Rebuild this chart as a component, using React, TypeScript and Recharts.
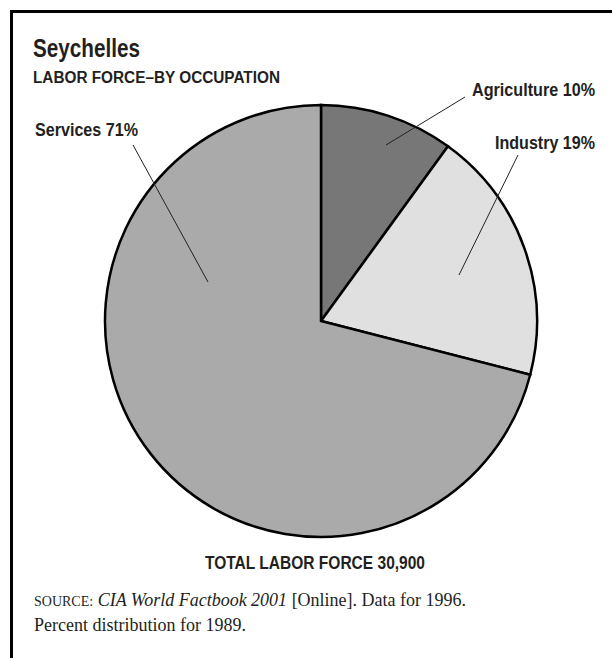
import { PieChart, Pie, Cell } from 'recharts';

const categories = ['Agriculture', 'Industry', 'Services'];
const shares = [10, 19, 71];

const TITLE = 'Seychelles';
const SUBTITLE = 'LABOR FORCE–BY OCCUPATION';
const TOTAL_NOTE = 'TOTAL LABOR FORCE 30,900';

const COLORS = ['#777777', '#e0e0e0', '#aaaaaa'];

// leader line + text placement, relative to the pie centre
const LABEL_LAYOUT = [
    { inner: [65, -176], outer: [144, -224], text: [274, -225], anchor: 'end', width: 123 },
    { inner: [138, -46], outer: [197, -166], text: [274, -172], anchor: 'end', width: 100 },
    { inner: [-113, -39], outer: [-188, -176], text: [-286, -185], anchor: 'start', width: 103 },
];

// no condensed face installed, so text is squeezed with textLength
const SANS = "'Liberation Sans', Arial, sans-serif";
const SERIF = "'Liberation Serif', 'DejaVu Serif', serif";

const data = categories.map((name, i) => ({ name, value: shares[i] }));

const renderLabel = (props: any) => {
    const { cx, cy, index, name, value } = props;
    const l = LABEL_LAYOUT[index];
    return (
        <g key={`label-${index}`}>
            <line
                x1={cx + l.inner[0]}
                y1={cy + l.inner[1]}
                x2={cx + l.outer[0]}
                y2={cy + l.outer[1]}
                stroke="#222"
                strokeWidth={1}
            />
            <text
                x={cx + l.text[0]}
                y={cy + l.text[1]}
                textAnchor={l.anchor}
                fontFamily={SANS}
                fontWeight="bold"
                fontSize={18}
                fill="#231f20"
                textLength={l.width}
                lengthAdjust="spacingAndGlyphs"
            >
                {`${name} ${value}%`}
            </text>
        </g>
    );
};

export default function App() {
    return (
        <div style={{ position: 'absolute', left: 0, top: 0, width: 612, height: 658, background: '#fff' }}>
            <PieChart width={612} height={658} margin={{ top: 0, right: 0, bottom: 0, left: 0 }}>
                <Pie
                    data={data}
                    dataKey="value"
                    nameKey="name"
                    cx={321}
                    cy={321}
                    outerRadius={216}
                    startAngle={90}
                    endAngle={-270}
                    stroke="#000"
                    strokeWidth={2.5}
                    label={renderLabel}
                    labelLine={false}
                    isAnimationActive={false}
                >
                    {data.map((_entry, index) => (
                        <Cell key={`cell-${index}`} fill={COLORS[index]} />
                    ))}
                </Pie>
            </PieChart>
            <svg
                width={612}
                height={658}
                style={{ position: 'absolute', left: 0, top: 0, pointerEvents: 'none' }}
            >
                <rect x={10} y={10} width={602} height={3} fill="#000" />
                <rect x={10} y={10} width={3} height={648} fill="#000" />
                <text
                    x={33}
                    y={57}
                    fontFamily={SANS}
                    fontWeight="bold"
                    fontSize={25}
                    fill="#231f20"
                    textLength={107}
                    lengthAdjust="spacingAndGlyphs"
                >
                    {TITLE}
                </text>
                <text
                    x={33}
                    y={83}
                    fontFamily={SANS}
                    fontWeight="bold"
                    fontSize={16}
                    fill="#231f20"
                    textLength={247}
                    lengthAdjust="spacingAndGlyphs"
                >
                    {SUBTITLE}
                </text>
                <text
                    x={205}
                    y={569}
                    fontFamily={SANS}
                    fontWeight="bold"
                    fontSize={19}
                    fill="#231f20"
                    textLength={220}
                    lengthAdjust="spacingAndGlyphs"
                >
                    {TOTAL_NOTE}
                </text>
                <text x={34} y={606} fontFamily={SERIF} fontSize={18} fill="#231f20">
                    <tspan fontSize={14}>SOURCE:</tspan>
                    <tspan fontStyle="italic"> CIA World Factbook 2001</tspan>
                    <tspan> [Online]. Data for 1996.</tspan>
                </text>
                <text x={34} y={631} fontFamily={SERIF} fontSize={18} fill="#231f20">
                    Percent distribution for 1989.
                </text>
            </svg>
        </div>
    );
}
